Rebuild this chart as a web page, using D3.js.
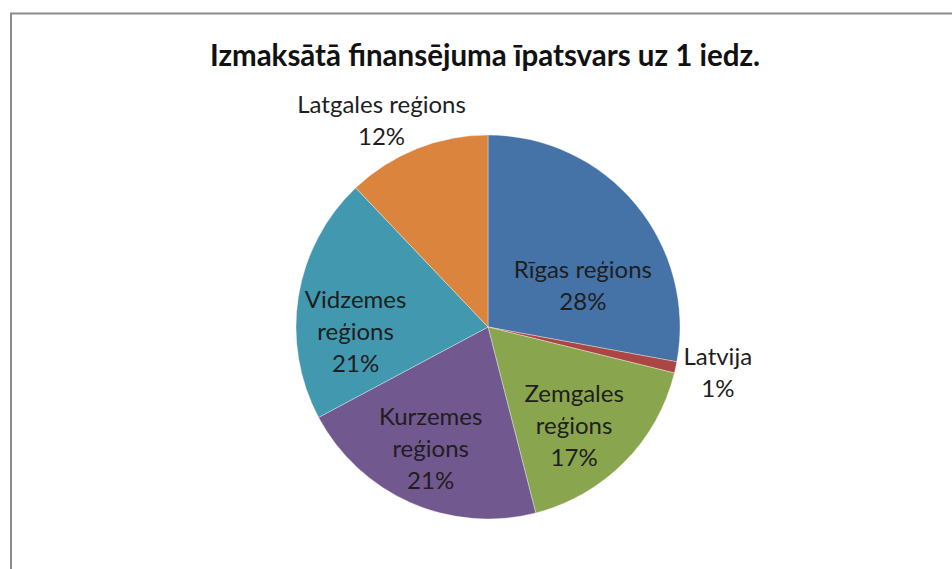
<!DOCTYPE html>
<html>
<head>
<meta charset="utf-8">
<script src="https://cdn.jsdelivr.net/npm/d3@7"></script>
<style>
    html, body { margin: 0; padding: 0; background: #fff; }
    svg { display: block; font-family: Lato, "Open Sans", sans-serif; }
</style>
</head>
<body>
<svg id="chart" width="952" height="569"></svg>
<script>
    var title = 'Izmaksātā finansējuma īpatsvars uz 1 iedz.';

    // one line per row of each label
    var regions = [
        ['Rīgas reģions'],
        ['Latvija'],
        ['Zemgales', 'reģions'],
        ['Kurzemes', 'reģions'],
        ['Vidzemes', 'reģions'],
        ['Latgales reģions']
    ];
    var shares = [27.9, 0.95, 17.15, 21.2, 20.7, 12.1];
    var colors = ['#4572A7', '#AA4643', '#89A54E', '#71588F', '#4198AF', '#DB843D'];

    // label placement: [radius factor, angle nudge in degrees]
    var labelAt = [[0.54, 16], [1.22, -1], [0.68, 4], [0.70, 1.5], [0.69, -11], [1.21, -5.5]];

    var svg = d3.select('#chart'),
        cx = 488,
        cy = 327,
        radius = 192;

    svg.append('path')
        .attr('d', 'M11,570V13.5H953')
        .attr('fill', 'none')
        .attr('stroke', '#8c8c8c')
        .attr('stroke-width', 2);

    svg.append('text')
        .attr('x', 485)
        .attr('y', 66)
        .attr('text-anchor', 'middle')
        .attr('font-size', 29.5)
        .attr('font-weight', 'bold')
        .attr('fill', '#111')
        .text(title);

    var data = shares.map(function(v, i){
        return { name: regions[i], value: v, color: colors[i], at: labelAt[i] };
    });

    var pie = d3.pie()
            .sort(null)
            .value(function(d){ return d.value; }),
        arc = d3.arc()
            .innerRadius(0)
            .outerRadius(radius),
        arcs = pie(data),
        total = d3.sum(shares);

    var $g = svg.append('g')
        .attr('transform', 'translate(' + cx + ',' + cy + ')');

    $g.selectAll('path.slice')
        .data(arcs)
        .enter().append('path')
        .attr('class', 'slice')
        .attr('d', arc)
        .attr('fill', function(d){ return d.data.color; })
        .attr('stroke', '#fff')
        .attr('stroke-opacity', 0.5)
        .attr('stroke-width', 0.7);

    $g.selectAll('text.label')
        .data(arcs)
        .enter().append('text')
        .attr('class', 'label')
        .attr('text-anchor', 'middle')
        .attr('font-size', 24)
        .attr('fill', '#1e1e1e')
        .each(function(d){
            var lines = d.data.name.concat([Math.round(d.value / total * 100) + '%']),
                mid = (d.startAngle + d.endAngle) / 2 + d.data.at[1] * Math.PI / 180,
                r = radius * d.data.at[0],
                x = r * Math.sin(mid),
                y = -r * Math.cos(mid),
                lh = 32,
                top = y - (lines.length - 1) * lh / 2 + 8.5,
                $t = d3.select(this);

            lines.forEach(function(line, i){
                $t.append('tspan')
                    .attr('x', x)
                    .attr('y', top + i * lh)
                    .text(line);
            });
        });
</script>
</body>
</html>
